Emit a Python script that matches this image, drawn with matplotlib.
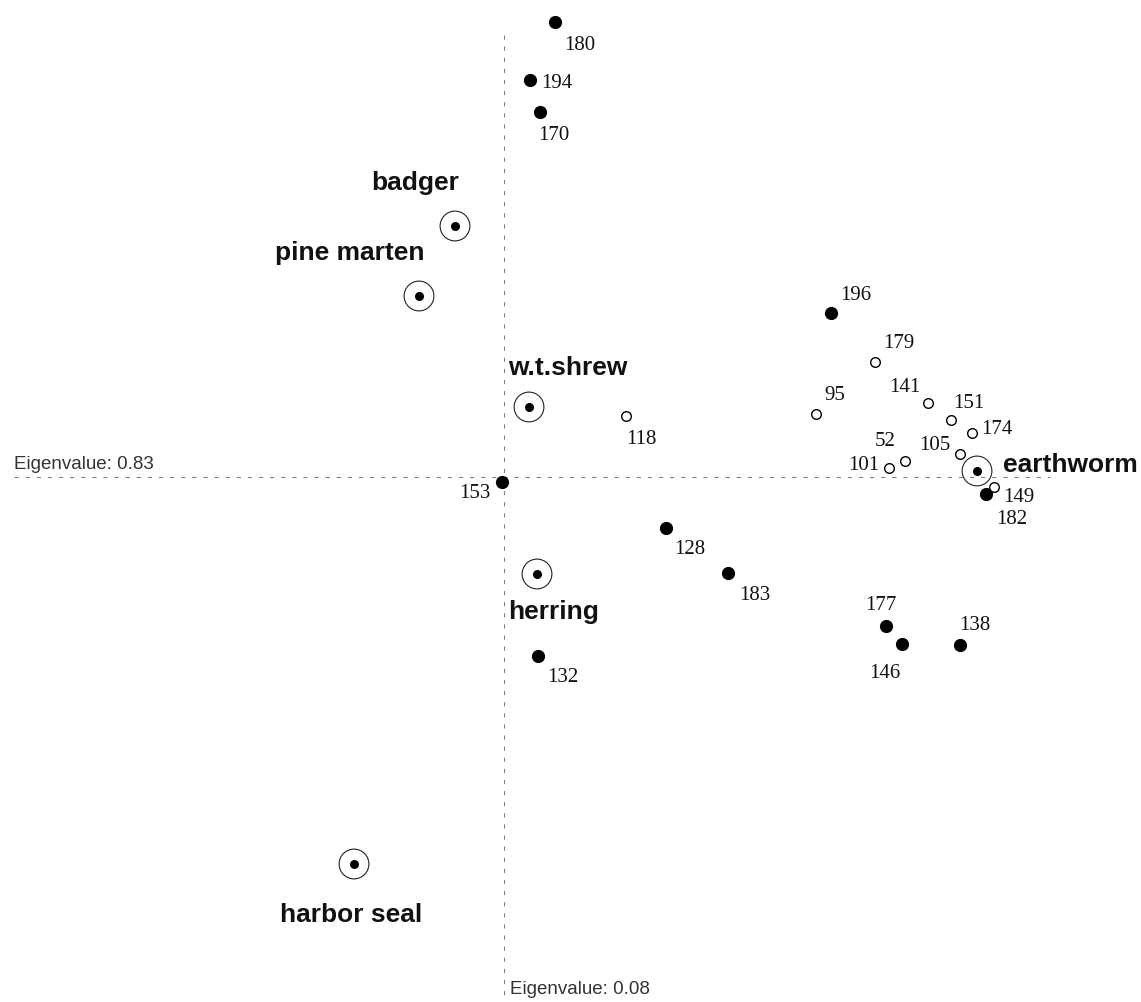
import matplotlib
matplotlib.use("Agg")
import matplotlib.pyplot as plt

# Ordination scores (axis 1, axis 2)
filled_ids = ["180", "194", "170", "196", "153", "128", "183", "182", "177", "146", "138", "132"]
filled_x = [0.51, 0.26, 0.36, 3.27, -0.02, 1.62, 2.24, 4.82, 3.82, 3.98, 4.56, 0.34]
filled_y = [4.55, 3.97, 3.65, 1.64, -0.05, -0.51, -0.96, -0.17, -1.49, -1.67, -1.68, -1.79]

open_ids = ["179", "141", "151", "174", "95", "52", "105", "149", "101", "118"]
open_x = [3.71, 4.24, 4.47, 4.68, 3.12, 4.01, 4.56, 4.90, 3.85, 1.22]
open_y = [1.15, 0.74, 0.57, 0.44, 0.63, 0.16, 0.23, -0.10, 0.09, 0.61]

species = ["badger", "pine marten", "w.t.shrew", "earthworm", "herring", "harbor seal"]
species_x = [-0.49, -0.85, 0.25, 4.73, 0.33, -1.50]
species_y = [2.51, 1.81, 0.70, 0.06, -0.97, -3.87]

eig_x_label = "Eigenvalue: 0.83"
eig_y_label = "Eigenvalue: 0.08"

# label placement (pixel offsets from the marker, x right / y up)
filled_off = {"180": (25, -24), "194": (27, -3), "170": (14, -24), "196": (25, 18),
              "153": (-27, -12), "128": (24, -22), "183": (27, -23), "182": (26, -26),
              "177": (-5, 21), "146": (-17, -29), "138": (15, 19), "132": (25, -22)}
open_off = {"179": (24, 19), "141": (-23, 16), "151": (18, 17), "174": (25, 4),
            "95": (19, 18), "52": (-20, 19), "105": (-25, 9), "149": (25, -11),
            "101": (-25, 2), "118": (15, -24)}
species_off = {"badger": (-40, 43), "pine marten": (-69, 43), "w.t.shrew": (39, 39),
               "earthworm": (26, 6), "herring": (17, -38), "harbor seal": (-3, -51)}
species_ha = {"earthworm": "left"}

fig = plt.figure(figsize=(11.41, 10.02), dpi=100)
ax = fig.add_axes([0, 0, 1, 1])
ax.set_xlim(-5.04, 6.37)
ax.set_ylim(-5.25, 4.77)
ax.axis("off")

plt.rcParams["lines.scale_dashes"] = False
dash = dict(color="#808080", lw=0.8, dashes=(3, 5))
ax.plot([-4.90, 5.46], [0, 0], **dash)
ax.plot([0, 0], [4.42, -5.25], **dash)

num_font = dict(family="Liberation Serif", fontsize=15, color="#111111")
sp_font = dict(family="Liberation Sans", fontsize=19, fontweight="bold", color="#111111")

ax.scatter(filled_x, filled_y, s=72, c="black", zorder=3)
ax.scatter(open_x, open_y, s=48, facecolors="white", edgecolors="black", linewidths=1.0, zorder=3)
ax.scatter(species_x, species_y, s=460, facecolors="none", edgecolors="#222222", linewidths=0.8, zorder=3)
ax.scatter(species_x, species_y, s=30, c="black", zorder=4)

for name, x, y in zip(filled_ids, filled_x, filled_y):
    ax.annotate(name, (x, y), xytext=filled_off[name], textcoords="offset pixels",
                ha="center", va="center", **num_font)
for name, x, y in zip(open_ids, open_x, open_y):
    ax.annotate(name, (x, y), xytext=open_off[name], textcoords="offset pixels",
                ha="center", va="center", **num_font)
for name, x, y in zip(species, species_x, species_y):
    ax.annotate(name, (x, y), xytext=species_off[name], textcoords="offset pixels",
                ha=species_ha.get(name, "center"), va="center", **sp_font)

ax.text(-4.90, 0.04, eig_x_label, ha="left", va="bottom",
        family="Liberation Sans", fontsize=13.5, color="#333333")
ax.text(0.06, -5.13, eig_y_label, ha="left", va="center",
        family="Liberation Sans", fontsize=13.5, color="#333333")

fig.savefig("out.png", dpi=100, facecolor="white")
